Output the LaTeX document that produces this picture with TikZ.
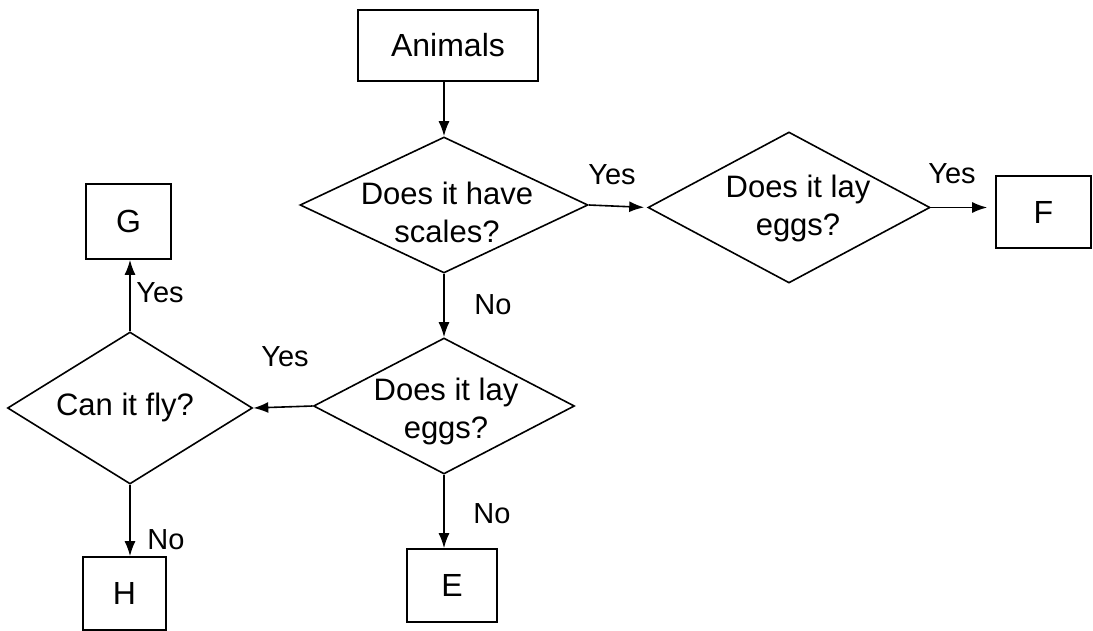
\documentclass[tikz,border=0pt]{standalone}
\usepackage{fontspec}
\setmainfont{Liberation Sans}
\usetikzlibrary{shapes.geometric,arrows.meta}
\begin{document}
\begin{tikzpicture}[x=1pt,y=-1pt,
  box/.style={draw,line width=1.6pt,inner sep=0pt,font=\fontsize{32}{38}\selectfont},
  dia/.style={draw,diamond,line width=1.6pt,inner sep=0pt},
  dtext/.style={align=center,inner sep=0pt,font=\fontsize{31}{38}\selectfont},
  lbl/.style={inner sep=0pt,font=\fontsize{29}{32}\selectfont},
  arr/.style={line width=1.6pt,-{Latex[length=15pt,width=11pt]}}]
\useasboundingbox (0,0) rectangle (1093,631);

% boxes
\node[box,minimum width=180pt,minimum height=71pt] (animals) at (448,45.5) {Animals};
\node[box,minimum width=85pt,minimum height=75pt] (G) at (128.5,221.5) {G};
\node[box,minimum width=95pt,minimum height=72pt] (F) at (1043.5,212) {F};
\node[box,minimum width=83pt,minimum height=73pt] (H) at (124.5,593.5) {H};
\node[box,minimum width=90pt,minimum height=73pt] (E) at (452,585.5) {E};

% diamonds
\node[dia,minimum width=288pt,minimum height=136pt] (d1) at (444,205) {};
\node[dtext] (t1) at (447,212) {Does it have\\scales?};
\node[dia,minimum width=282pt,minimum height=151pt] (d2) at (789,207.5) {};
\node[dtext] (t2) at (798,208) {Does it lay\\eggs?};
\node[dia,minimum width=261pt,minimum height=136pt] (d3) at (444,406) {};
\node[dtext] (t3) at (446,411) {Does it lay\\eggs?};
\node[dia,minimum width=245pt,minimum height=152pt] (d4) at (130,408) {};
\node[dtext] (t4) at (125,407) {Can it fly?};

% connectors
\draw[arr] (animals.south -| d1.north) -- (d1.north);
\draw[arr,shorten >=3pt] (d1.east) -- (d2.west);
\draw[arr,shorten >=8pt] (d2.east) -- (d2.east -| F.west);
\draw[arr] (d1.south) -- (d3.north);
\draw[arr] (d3.west) -- (d4.east);
\draw[arr] (d4.north) -- (d4.north |- G.south);
\draw[arr] (d4.south) -- (d4.south |- H.north);
\draw[arr] (d3.south) -- (d3.south |- E.north);

% labels
\node[lbl] (y1) at (612,175) {Yes};
\node[lbl] (y2) at (952,174) {Yes};
\node[lbl] (n1) at (493,305) {No};
\node[lbl] (y3) at (285,357) {Yes};
\node[lbl] (y4) at (160,293) {Yes};
\node[lbl] (n2) at (166,540) {No};
\node[lbl] (n3) at (492,514) {No};
\end{tikzpicture}
\end{document}
